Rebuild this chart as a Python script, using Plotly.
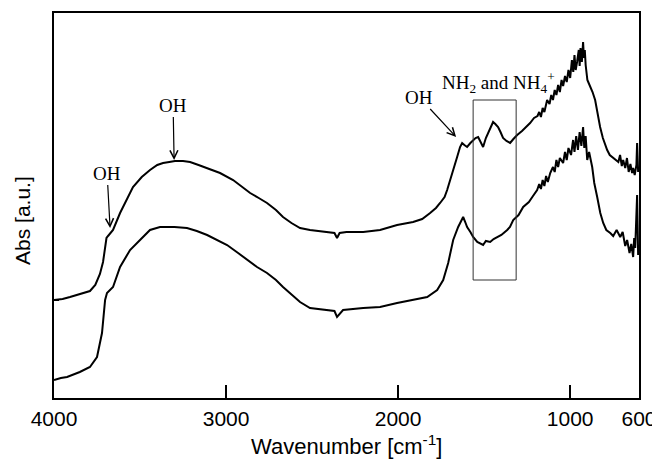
import plotly.graph_objects as go

# Upper spectrum (wavenumber cm-1, absorbance a.u.)
upper_wn = [4000, 3950, 3907, 3850, 3791, 3760, 3733, 3715, 3703, 3695, 3686, 3657, 3616, 3580, 3541,
            3490, 3442, 3400, 3366, 3330, 3297, 3250, 3209, 3160, 3110, 3035, 2959, 2900, 2860, 2810,
            2762, 2710, 2669, 2620, 2570, 2512, 2450, 2395, 2370, 2355, 2340, 2300, 2203, 2105, 2006,
            1913, 1860, 1814, 1780, 1756, 1730, 1715, 1700, 1686, 1670, 1657, 1640, 1628, 1615, 1599,
            1580, 1564, 1550, 1535, 1520, 1506, 1490, 1477, 1460, 1448, 1435, 1419, 1405, 1390, 1370,
            1349, 1330, 1308, 1280, 1260, 1233, 1210, 1190, 1180, 1170, 1160, 1150, 1134, 1120, 1110,
            1100, 1090, 1080, 1070, 1060, 1050, 1041, 1030, 1020, 1010, 1000, 990, 982, 975, 968,
            960, 950, 945, 940, 932, 925, 920, 915, 910, 905, 900, 895, 880, 870, 855,
            840, 826, 810, 800, 785, 770, 750, 735, 720, 710, 700, 692, 680, 670, 660,
            650, 640, 634, 625, 615, 611, 605]
upper_abs = [98, 99, 101, 104, 107, 113, 124, 136, 153, 160, 162, 168, 185, 198, 211,
             221, 228, 233, 235, 236, 237, 237, 236, 233, 230, 225, 218, 210, 205, 200,
             195, 188, 181, 175, 170, 168, 167, 166, 165, 160, 165, 166, 166, 168, 173,
             176, 179, 185, 190, 195, 201, 208, 216, 225, 233, 241, 251, 255, 253, 251,
             255, 258, 260, 261, 255, 251, 260, 265, 273, 276, 274, 271, 266, 260, 257,
             255, 259, 263, 267, 270, 275, 280, 282, 286, 281, 290, 286, 298, 294, 303,
             298, 308, 303, 313, 306, 318, 312, 322, 316, 328, 320, 338, 326, 343, 328,
             336, 348, 332, 350, 336, 356, 340, 348, 333, 323, 318, 316, 310, 306, 298,
             283, 271, 260, 255, 248, 243, 240, 238, 236, 243, 232, 238, 230, 240, 226,
             234, 225, 230, 223, 233, 255, 226]

# Lower spectrum
lower_wn = [4000, 3960, 3924, 3850, 3791, 3750, 3721, 3703, 3692, 3657, 3616, 3558, 3500, 3442, 3384,
            3300, 3227, 3170, 3110, 3050, 2994, 2930, 2878, 2820, 2762, 2710, 2669, 2620, 2570, 2512,
            2450, 2395, 2370, 2355, 2320, 2203, 2105, 2006, 1913, 1831, 1773, 1738, 1709, 1680, 1651,
            1622, 1610, 1599, 1580, 1564, 1540, 1506, 1490, 1465, 1445, 1424, 1400, 1366, 1350, 1331,
            1300, 1273, 1240, 1220, 1192, 1180, 1170, 1160, 1150, 1140, 1130, 1116, 1100, 1090, 1080,
            1070, 1060, 1041, 1030, 1020, 1010, 995, 983, 975, 965, 955, 945, 935, 925, 918,
            910, 901, 890, 872, 860, 843, 825, 808, 790, 767, 750, 730, 709, 695, 680,
            669, 655, 645, 634, 628, 622, 611, 605]
lower_abs = [18, 20, 21, 26, 31, 41, 65, 98, 105, 111, 131, 148, 158, 168, 171,
             171, 170, 167, 163, 158, 153, 145, 138, 131, 125, 118, 111, 104, 96, 90,
             89, 88, 87, 81, 88, 90, 91, 95, 98, 101, 108, 118, 135, 158, 171,
             181, 176, 171, 166, 161, 156, 153, 157, 156, 159, 161, 163, 168, 171, 178,
             183, 191, 196, 201, 208, 214, 209, 218, 212, 222, 216, 225, 231, 226, 238,
             231, 240, 235, 246, 238, 250, 243, 258, 246, 262, 248, 266, 252, 271, 250,
             262, 238, 246, 231, 215, 201, 185, 175, 168, 165, 162, 168, 161, 166, 152,
             158, 145, 154, 141, 160, 150, 203, 143]

x_ticks = [4000, 3000, 2000, 1000, 600]
x_ticklabels = ["4000", "3000", "2000", "1000", "600"]

fig = go.Figure()
for wn, ab in [(upper_wn, upper_abs), (lower_wn, lower_abs)]:
    fig.add_trace(go.Scatter(x=wn, y=ab, mode="lines",
                             line=dict(color="black", width=2), showlegend=False,
                             hoverinfo="skip"))

# Box around NH2 / NH4+ region
fig.add_shape(type="rect", x0=1564, x1=1314, y0=118, y1=298,
              line=dict(color="#333333", width=1), fillcolor="rgba(0,0,0,0)")

serif = dict(family="Liberation Serif, Times New Roman, serif", size=19, color="black")
sans = "Liberation Sans, Arial, sans-serif"
ann = [
    dict(x=3674, y=170, text="OH", ax=-3, ay=-55),
    dict(x=3302, y=238, text="OH", ax=-1, ay=-55),
    dict(x=1663, y=261, text="OH", ax=-37, ay=-40),
]
for a in ann:
    fig.add_annotation(x=a["x"], y=a["y"], text=a["text"], ax=a["ax"], ay=a["ay"],
                       showarrow=True, arrowhead=5, arrowsize=1.3, arrowwidth=1.2,
                       arrowcolor="black", font=serif)
fig.add_annotation(x=1419, y=316, text="NH<sub>2</sub> and NH<sub>4</sub><sup>+</sup>",
                   showarrow=False, font=serif)

# Axis titles
fig.add_annotation(xref="paper", yref="paper", x=0.5, y=-0.122, xanchor="center", yanchor="middle",
                   text="Wavenumber [cm<sup>-1</sup>]", showarrow=False,
                   font=dict(family=sans, size=22, color="black"))
fig.add_annotation(xref="paper", yref="paper", x=-0.055, y=0.462, xanchor="center", yanchor="middle",
                   text="Abs [a.u.]", textangle=-90, showarrow=False,
                   font=dict(family=sans, size=21, color="black"))

# The page body has an 8px margin, so the figure is 8px smaller than the window
fig.update_layout(
    width=652, height=453,
    margin=dict(l=46, r=21, t=5, b=63),
    paper_bgcolor="white", plot_bgcolor="white",
    font=dict(family=sans, size=21, color="black"),
    xaxis=dict(range=[4000, 600], tickvals=x_ticks, ticktext=x_ticklabels,
               ticks="inside", ticklen=13, tickwidth=1.5, tickcolor="black",
               tickfont=dict(family=sans, size=21, color="black"),
               ticklabelstandoff=1, automargin=False,
               showline=True, linecolor="black", linewidth=1.5, mirror=True,
               showgrid=False, zeroline=False),
    yaxis=dict(range=[0, 385], tickvals=[98], ticks="inside", ticklen=5,
               tickwidth=1.5, tickcolor="black", showticklabels=False,
               automargin=False,
               showline=True, linecolor="black", linewidth=1.5, mirror=True,
               showgrid=False, zeroline=False),
)

fig.write_html("out.html")
